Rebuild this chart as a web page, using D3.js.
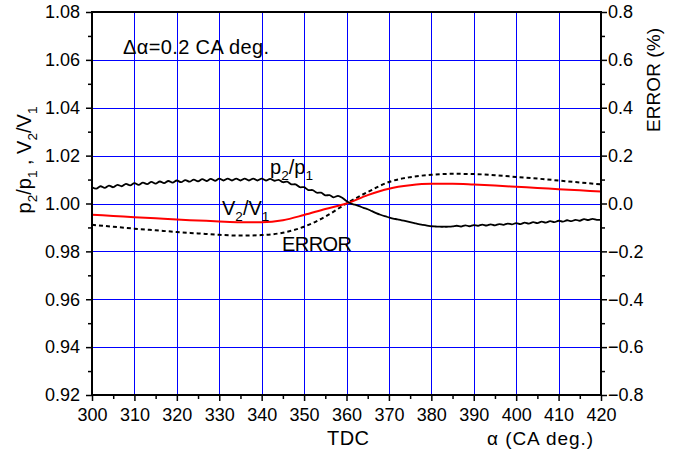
<!DOCTYPE html>
<html>
<head>
<meta charset="utf-8">
<script src="https://cdn.jsdelivr.net/npm/d3@7"></script>
<style>
  html, body { margin: 0; padding: 0; background: #fff; }
  svg { display: block; }
  text { font-family: Arial, "Liberation Sans", sans-serif; fill: #000; }
</style>
</head>
<body>
<svg id="chart" width="675" height="455"></svg>
<script>
// ---- data ----
const alphaP = d3.range(300, 421, 1);
const p2p1 = [
  1.0068,1.0062,1.0072,1.0065,1.0075,1.0068,1.0078,1.0072,1.0082,1.0076,
  1.0085,1.0078,1.0087,1.0081,1.0090,1.0083,1.0092,1.0085,1.0094,1.0087,
  1.0096,1.0089,1.0098,1.0091,1.0100,1.0093,1.0102,1.0094,1.0103,1.0095,
  1.0104,1.0096,1.0104,1.0096,1.0104,1.0096,1.0104,1.0096,1.0104,1.0096,
  1.0104,1.0096,1.0103,1.0095,1.0099,1.0089,1.0091,1.0080,1.0080,1.0068,
  1.0068,1.0056,1.0056,1.0045,1.0045,1.0034,1.0035,1.0026,1.0032,1.0024,
  1.0010,1.0000,0.9995,0.9989,0.9982,0.9976,0.9968,0.9960,0.9953,0.9947,
  0.9942,0.9937,0.9934,0.9930,0.9926,0.9922,0.9918,0.9914,0.9911,0.9908,
  0.9905,0.9904,0.9903,0.9903,0.9903,0.9904,0.9907,0.9904,0.9909,0.9905,
  0.9910,0.9907,0.9912,0.9908,0.9913,0.9909,0.9914,0.9911,0.9916,0.9913,
  0.9918,0.9914,0.9920,0.9916,0.9922,0.9918,0.9924,0.9920,0.9926,0.9922,
  0.9928,0.9924,0.9930,0.9926,0.9932,0.9928,0.9935,0.9931,0.9936,0.9932,
  0.9932
];
const alphaV = d3.range(300, 421, 5);
const v2v1 = [
  0.9953,0.9948,0.9943,0.9938,0.9933,0.9929,0.9925,0.9922,0.9922,0.9930,
  0.9952,0.9977,1.0000,1.0035,1.0062,1.0076,1.0082,1.0082,1.0079,1.0075,
  1.0070,1.0065,1.0060,1.0055,1.0050
];
const errorPct = [
  -0.089,-0.097,-0.105,-0.112,-0.119,-0.125,-0.131,-0.134,-0.132,-0.122,
  -0.097,-0.055,0.000,0.048,0.090,0.110,0.120,0.124,0.123,0.118,
  0.111,0.104,0.096,0.088,0.080
];
const xTicks = d3.range(300, 421, 10);
const yLeftTicks = [0.92,0.94,0.96,0.98,1.00,1.02,1.04,1.06,1.08];
const yRightTicks = [-0.8,-0.6,-0.4,-0.2,0.0,0.2,0.4,0.6,0.8];

// ---- layout ----
const L = 92, R = 601, T = 12, B = 395;
const svg = d3.select("#chart");
const x = d3.scaleLinear().domain([300, 420]).range([L, R]);
const yL = d3.scaleLinear().domain([0.92, 1.08]).range([B, T]);
const yR = d3.scaleLinear().domain([-0.8, 0.8]).range([B, T]);
const FS = 18;

// grid
const grid = svg.append("g").attr("stroke", "#0000ff").attr("stroke-width", 1);
grid.selectAll("line.gx").data(xTicks.slice(1, -1)).join("line")
  .attr("x1", d => Math.round(x(d)) + 0.5).attr("x2", d => Math.round(x(d)) + 0.5)
  .attr("y1", T).attr("y2", B);
grid.selectAll("line.gy").data(yLeftTicks.slice(1, -1)).join("line")
  .attr("y1", d => Math.round(yL(d)) + 0.5).attr("y2", d => Math.round(yL(d)) + 0.5)
  .attr("x1", L).attr("x2", R);

// curves
svg.append("clipPath").attr("id", "clip").append("rect")
  .attr("x", L).attr("y", T).attr("width", R - L).attr("height", B - T);
const plot = svg.append("g").attr("clip-path", "url(#clip)");

plot.append("path")
  .datum(alphaV.map((a, i) => [a, errorPct[i]]))
  .attr("fill", "none").attr("stroke", "#000").attr("stroke-width", 2)
  .attr("stroke-dasharray", "4,3")
  .attr("d", d3.line().x(d => x(d[0])).y(d => yR(d[1])).curve(d3.curveMonotoneX));

plot.append("path")
  .datum(alphaV.map((a, i) => [a, v2v1[i]]))
  .attr("fill", "none").attr("stroke", "#ff0000").attr("stroke-width", 2)
  .attr("d", d3.line().x(d => x(d[0])).y(d => yL(d[1])).curve(d3.curveMonotoneX));

plot.append("path")
  .datum(alphaP.map((a, i) => [a, p2p1[i]]))
  .attr("fill", "none").attr("stroke", "#000").attr("stroke-width", 1.8)
  .attr("d", d3.line().x(d => x(d[0])).y(d => yL(d[1])).curve(d3.curveCatmullRom));

// axes
function styleAxis(g) {
  g.select(".domain").remove();
  g.selectAll(".tick line").attr("stroke", "#000").attr("stroke-width", 1.5);
  g.selectAll("text").attr("font-size", FS).attr("font-family", "Arial, 'Liberation Sans', sans-serif").attr("fill", "#000");
}
const fmt2 = d3.format(".2f");
const fmt1 = d3.format(".1f");

svg.append("g").attr("transform", `translate(0,${B})`)
  .call(d3.axisBottom(x).tickValues(d3.range(305, 420, 10)).tickSize(4).tickFormat(""))
  .call(styleAxis);
svg.append("g").attr("transform", `translate(0,${B})`)
  .call(d3.axisBottom(x).tickValues(xTicks).tickSize(6).tickPadding(7).tickFormat(d3.format("d")))
  .call(styleAxis);

svg.append("g").attr("transform", `translate(${L},0)`)
  .call(d3.axisLeft(yL).tickValues(d3.range(0.93, 1.08, 0.02)).tickSize(4).tickFormat(""))
  .call(styleAxis);
svg.append("g").attr("transform", `translate(${L},0)`)
  .call(d3.axisLeft(yL).tickValues(yLeftTicks).tickSize(6).tickPadding(6).tickFormat(fmt2))
  .call(styleAxis);

svg.append("g").attr("transform", `translate(${R},0)`)
  .call(d3.axisRight(yR).tickValues(d3.range(-0.7, 0.8, 0.2)).tickSize(4).tickFormat(""))
  .call(styleAxis);
svg.append("g").attr("transform", `translate(${R},0)`)
  .call(d3.axisRight(yR).tickValues(yRightTicks).tickSize(6).tickPadding(1).tickFormat(fmt1))
  .call(styleAxis);

// frame
svg.append("rect").attr("x", L).attr("y", T).attr("width", R - L).attr("height", B - T)
  .attr("fill", "none").attr("stroke", "#000").attr("stroke-width", 2);

// helper for text with subscripts: parts = [[text, isSub], ...]
function subText(g, parts, fs) {
  let prevSub = false;
  parts.forEach(([t, sub]) => {
    const ts = g.append("tspan").text(t);
    if (sub) { ts.attr("font-size", fs * 0.68).attr("dy", fs * 0.32); }
    else { ts.attr("font-size", fs); if (prevSub) ts.attr("dy", -fs * 0.32); }
    prevSub = sub;
  });
  return g;
}

// annotations
svg.append("text").attr("x", 123).attr("y", 54).attr("font-size", 20)
  .attr("textLength", 146).attr("lengthAdjust", "spacing").text("Δα=0.2 CA deg.");

const tp = svg.append("text").attr("x", 270).attr("y", 174);
subText(tp, [["p", false], ["2", true], ["/p", false], ["1", true]], 20);

const tv = svg.append("text").attr("x", 222).attr("y", 215);
subText(tv, [["V", false], ["2", true], ["/V", false], ["1", true]], 20);

svg.append("text").attr("x", 282).attr("y", 251).attr("font-size", 20)
  .attr("textLength", 70).attr("lengthAdjust", "spacing").text("ERROR");

svg.append("text").attr("x", 327).attr("y", 445).attr("font-size", 20)
  .attr("textLength", 42).attr("lengthAdjust", "spacing").text("TDC");
svg.append("text").attr("x", 487).attr("y", 445).attr("font-size", 19)
  .attr("textLength", 106).attr("lengthAdjust", "spacing").text("α (CA deg.)");

// axis titles
const lt = svg.append("text").attr("transform", "translate(31,160) rotate(-90)").attr("text-anchor", "middle");
subText(lt, [["p", false], ["2", true], ["/p", false], ["1", true], [" , V", false], ["2", true], ["/V", false], ["1", true]], 20);

svg.append("text").attr("transform", "translate(660,80) rotate(-90)").attr("text-anchor", "middle")
  .attr("font-size", 19).attr("textLength", 104).attr("lengthAdjust", "spacing").text("ERROR (%)");
</script>
</body>
</html>
